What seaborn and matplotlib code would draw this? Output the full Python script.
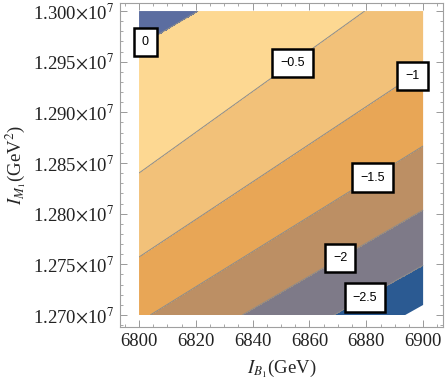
import numpy as np
import matplotlib
matplotlib.use("Agg")
import matplotlib.pyplot as plt
from matplotlib.patches import Polygon
from matplotlib.ticker import MultipleLocator
import seaborn as sns

# contour levels and where each contour line meets x=6800 and x=6900
levels = [0.0, -0.5, -1.0, -1.5, -2.0, -2.5]
y_at_6800 = [1.29654e7, 1.28401e7, 1.27572e7, 1.26931e7, 1.26408e7, 1.25934e7]
y_at_6900 = [1.31312e7, 1.30414e7, 1.29428e7, 1.28668e7, 1.28036e7, 1.27493e7]

# label texts and where they sit
label_text = ["0", "\u22120.5", "\u22121", "\u22121.5", "\u22122", "\u22122.5"]
label_x = [6803.5, 6853.9, 6895.8, 6882.4, 6870.8, 6879.2]
label_y = [1.29635e7, 1.29497e7, 1.29378e7, 1.28342e7, 1.27562e7, 1.27197e7]

# plotted domain (bottom-right corner is missing)
x_range = [6800, 6900]
y_range = [1.27e7, 1.30e7]
cut_x = [6893.7, 6900.0]
cut_y = [1.2700e7, 1.27099e7]

x_ticks = [6800, 6820, 6840, 6860, 6880, 6900]
y_ticks = [1.270e7, 1.275e7, 1.280e7, 1.285e7, 1.290e7, 1.295e7, 1.300e7]
y_tick_labels = [r"1.%03d$\times$10$^{7}$" % v for v in [270, 275, 280, 285, 290, 295, 300]]

# fill colours from lowest band to highest
band_colors = sns.color_palette(["#2b5a92", "#7e7a88", "#bc8f64", "#e8a656",
                                 "#f2c179", "#fdd892", "#5b6da0"])

sns.set_style("ticks")
plt.rcParams["font.family"] = ["Liberation Serif", "DejaVu Serif"]
plt.rcParams["mathtext.fontset"] = "stix"

# build a grid from the straight contour lines read above
xs = np.linspace(x_range[0], x_range[1], 401)
ys = np.linspace(y_range[0], y_range[1], 401)
X, Y = np.meshgrid(xs, ys)
Z = np.empty_like(X)
lv = np.array(levels[::-1])
left = np.array(y_at_6800[::-1])
right = np.array(y_at_6900[::-1])
for i, x in enumerate(xs):
    t = (x - x_range[0]) / (x_range[1] - x_range[0])
    yk = left + (right - left) * t
    yk = np.concatenate([[yk[0] - 1e6], yk, [yk[-1] + 1e6]])
    vk = np.concatenate([[-3.0], lv, [0.5]])
    Z[:, i] = np.interp(ys, yk, vk)

fig = plt.figure(figsize=(4.45, 3.82), dpi=100)
ax = fig.add_axes([0.2697, 0.144, 0.7258, 0.848])
ax.set_xlim(6793.3, 6907.0)
ax.set_ylim(1.268816e7, 1.300789e7)

fill_levels = [-3.0] + list(lv) + [0.5]
cf = ax.contourf(X, Y, Z, levels=fill_levels, colors=band_colors)
cl = ax.contour(X, Y, Z, levels=list(lv), colors="#8c8c8c", linewidths=0.7,
                linestyles="solid")

domain = Polygon([(x_range[0], y_range[0]), (cut_x[0], cut_y[0]), (cut_x[1], cut_y[1]),
                  (x_range[1], y_range[1]), (x_range[0], y_range[1])],
                 closed=True, transform=ax.transData, fill=False, lw=0)
ax.add_patch(domain)
cf.set_clip_path(domain)
cl.set_clip_path(domain)

fmt = dict(zip(levels, label_text))
texts = ax.clabel(cl, levels=list(lv), fmt=fmt, inline=False, fontsize=9,
                  manual=list(zip(label_x, label_y)), colors="black")
for t in texts:
    t.set_rotation(0)
    t.set_family("Liberation Sans")
    t.set_zorder(5)
    t.set_bbox(dict(boxstyle="square,pad=0.65", fc="white", ec="black", lw=1.8))

ax.set_xticks(x_ticks)
ax.set_yticks(y_ticks)
ax.set_yticklabels(y_tick_labels)
ax.xaxis.set_minor_locator(MultipleLocator(5))
ax.yaxis.set_minor_locator(MultipleLocator(1e4))
ax.tick_params(which="both", direction="in", top=True, right=True,
               color="#999999", labelsize=13.5, labelcolor="#222222")
ax.tick_params(which="major", length=5, width=0.7, pad=4)
ax.tick_params(which="minor", length=2.5, width=0.6)
for s in ax.spines.values():
    s.set_color("#a0a0a0")
    s.set_linewidth(0.8)

ax.set_xlabel(r"$I_{B_1}$(GeV)", fontsize=13.5, labelpad=6)
ax.set_ylabel(r"$I_{M_1}$(GeV$^2$)", fontsize=13.5, labelpad=4)

fig.savefig("out.png", dpi=100)
